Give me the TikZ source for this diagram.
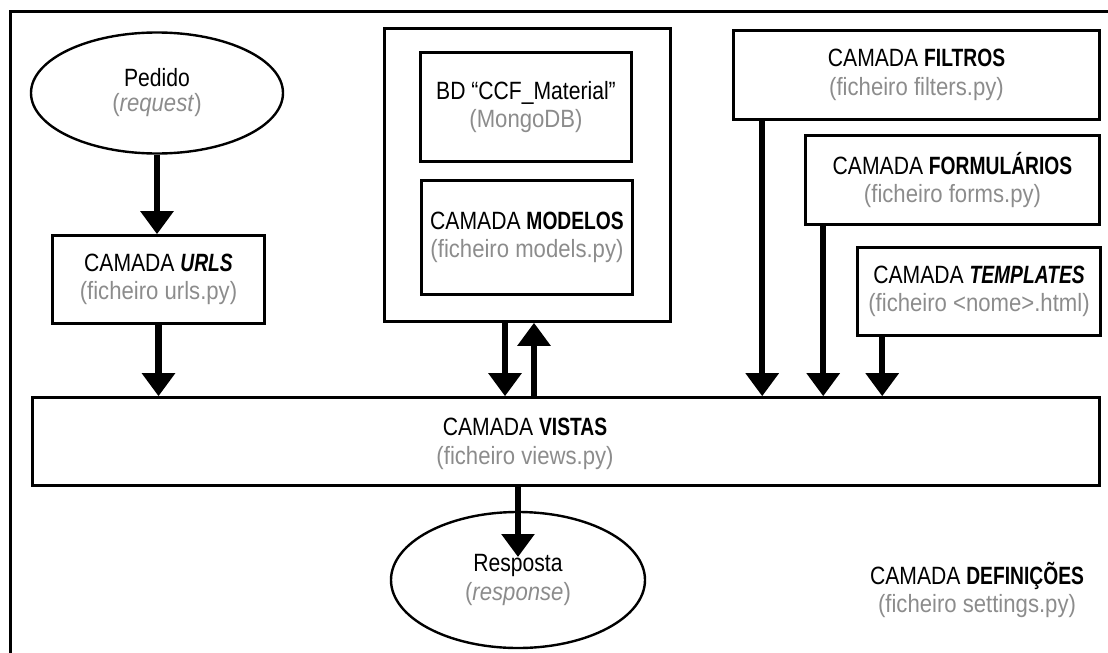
\documentclass[tikz,border=0pt]{standalone}
\usepackage{fontspec}
\setmainfont{Liberation Sans}
\newfontfamily\bkf[FakeStretch=0.845]{Liberation Sans}
\newfontfamily\bbf[FakeStretch=0.77]{Liberation Sans}
\newfontfamily\grf[FakeStretch=0.885]{Liberation Sans}
\usetikzlibrary{arrows.meta,shapes.geometric}
\definecolor{txtgray}{RGB}{140,140,140}
\newcommand\blab[1]{{\bbf\bfseries #1}}
\newcommand\glab[1]{{\grf\color{txtgray}#1}}
\begin{document}
\begin{tikzpicture}[x=1pt,y=-1pt,
  txt/.style={align=center,inner sep=0pt,font=\fontsize{25}{28.5}\selectfont\bkf},
  box/.style={txt,draw,line width=2.6pt,rectangle},
  oval/.style={txt,draw,line width=2.4pt,ellipse},
  arr/.style={line width=6.5pt,-{Triangle[length=23pt,width=32pt]}},
  frame/.style={line width=3pt}]
\useasboundingbox (0,0) rectangle (1108,653);
\draw[frame] (10.5,660) -- (10.5,11.5) -- (1115,11.5);

\node[oval,minimum width=252pt,minimum height=121pt,font=\fontsize{25}{25}\selectfont\bkf] (pedido) at (157,93)
  {Pedido\\\glab{(\textit{request})}};
\node[box,minimum width=212pt,minimum height=88pt] (urls) at (158.5,279.5)
  {CAMADA \blab{\itshape URLS}\\\glab{(ficheiro urls.py)}};

\node[box,minimum width=286pt,minimum height=293pt] (modout) at (527.5,175) {};
\node[box,minimum width=211pt,minimum height=109pt] (bd) at (526,107)
  {BD “CCF\_Material”\\\glab{(MongoDB)}};
\node[box,minimum width=211pt,minimum height=114pt] (modelos) at (527,237.5)
  {CAMADA \blab{MODELOS}\\\glab{(ficheiro models.py)}};

\node[box,minimum width=366pt,minimum height=89pt] (filtros) at (916.5,75)
  {CAMADA \blab{FILTROS}\\\glab{(ficheiro filters.py)}};
\node[box,minimum width=294pt,minimum height=89pt] (forms) at (952.5,180)
  {CAMADA \blab{FORMULÁRIOS}\\\glab{(ficheiro forms.py)}};
\node[box,minimum width=243pt,minimum height=88pt] (templ) at (979,291.5)
  {CAMADA \blab{\itshape TEMPLATES}\\\glab{(ficheiro <nome>.html)}};

\node[box,minimum width=1067pt,minimum height=88pt] (vistas) at (566,441.5) {};
\node[txt] (vistastxt) at (525,444)
  {CAMADA \blab{VISTAS}\\\glab{(ficheiro views.py)}};

\node[oval,minimum width=254pt,minimum height=136pt] (resposta) at (518,580)
  {Resposta\\\glab{(\textit{response})}};
\coordinate (resptip) at (518,557);

\node[txt] (defin) at (977,590)
  {CAMADA \blab{DEFINIÇÕES}\\\glab{(ficheiro settings.py)}};

% connectors
\draw[arr] (pedido.south) -- (pedido.south |- urls.north);
\draw[arr] (urls.south) -- (urls.south |- vistas.north);
\draw[arr] ([xshift=-22.5pt]modout.south) coordinate (md) -- (md |- vistas.north);
\draw[arr] ([xshift=6.5pt]modout.south |- vistas.north) coordinate (mu) -- (mu |- modout.south);
\draw[arr] ([xshift=30pt]filtros.south west) coordinate (f1) -- (f1 |- vistas.north);
\draw[arr] ([xshift=19pt]forms.south west) coordinate (f2) -- (f2 |- vistas.north);
\draw[arr] ([xshift=26pt]templ.south west) coordinate (f3) -- (f3 |- vistas.north);
\draw[arr] (resptip |- vistas.south) -- (resptip);
\end{tikzpicture}
\end{document}
